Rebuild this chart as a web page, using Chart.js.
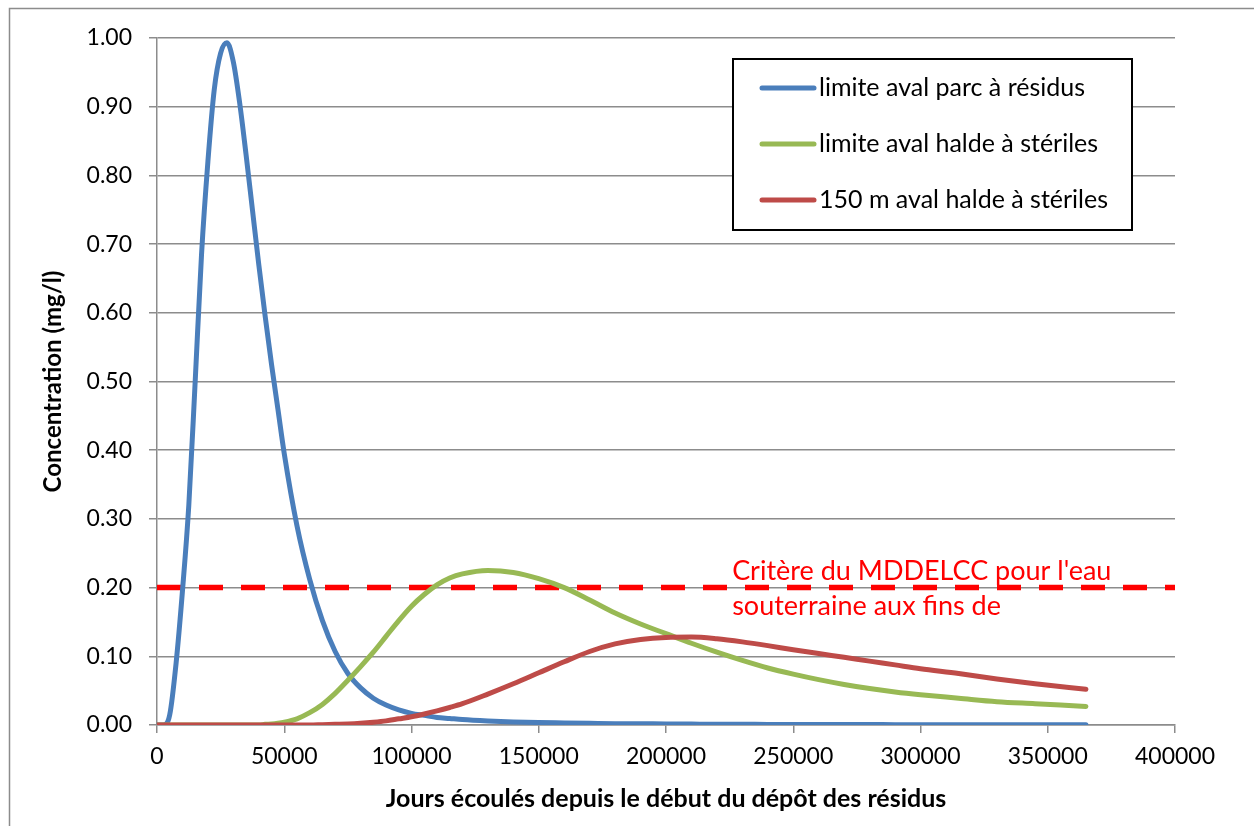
<!DOCTYPE html>
<html lang="fr">
<head>
  <meta charset="UTF-8">
  <title>Concentration en aval</title>
  <script src="https://cdn.jsdelivr.net/npm/chart.js"></script>
  <style>
    body { margin: 0; background: #fff; }
    #wrap { width: 1254px; height: 826px; }
  </style>
</head>
<body>
  <div id="wrap"><canvas id="chart" width="1254" height="826"></canvas></div>

  <script>
    // jours écoulés (axe x)
    const days = [0, 2500, 5000, 7500, 10000, 12500, 15000, 17500, 20000, 22500,
      25000, 27500, 30000, 32500, 35000, 37500, 40000, 42500, 45000, 47500,
      50000, 55000, 60000, 65000, 70000, 75000, 80000, 85000, 90000, 95000,
      100000, 105000, 110000, 115000, 120000, 130000, 140000, 150000, 160000, 170000,
      180000, 190000, 200000, 210000, 220000, 230000, 240000, 250000, 260000, 270000,
      280000, 290000, 300000, 315000, 330000, 345000, 365000];

    const parcResidus = [0, 0, 0.015, 0.09, 0.195, 0.32, 0.5, 0.685, 0.82, 0.925,
      0.978, 0.993, 0.965, 0.905, 0.83, 0.75, 0.67, 0.595, 0.525, 0.46,
      0.395, 0.29, 0.212, 0.152, 0.107, 0.075, 0.054, 0.039, 0.029, 0.022,
      0.017, 0.014, 0.011, 0.0095, 0.008, 0.006, 0.0045, 0.0035, 0.003, 0.0025,
      0.002, 0.0018, 0.0015, 0.0013, 0.0011, 0.001, 0.0009, 0.0008, 0.0007, 0.0006,
      0.0006, 0.0005, 0.0005, 0.0004, 0.0004, 0.0003, 0.0003];

    const haldeSteriles = [0, 0, 0, 0, 0, 0, 0, 0, 0, 0,
      0, 0, 0, 0, 0, 0, 0, 0.001, 0.0015, 0.0025,
      0.004, 0.009, 0.018, 0.03, 0.046, 0.065, 0.085, 0.106, 0.129, 0.152,
      0.173, 0.19, 0.204, 0.214, 0.22, 0.225, 0.222, 0.213, 0.2, 0.182,
      0.163, 0.147, 0.133, 0.119, 0.106, 0.094, 0.083, 0.074, 0.066, 0.059,
      0.053, 0.048, 0.044, 0.039, 0.034, 0.031, 0.027];

    const haldeSteriles150 = [0, 0, 0, 0, 0, 0, 0, 0, 0, 0,
      0, 0, 0, 0, 0, 0, 0, 0, 0, 0,
      0, 0, 0, 0.0005, 0.001, 0.0015, 0.0025, 0.004, 0.006, 0.009,
      0.012, 0.016, 0.0205, 0.0255, 0.031, 0.045, 0.06, 0.076, 0.092, 0.107,
      0.118, 0.1245, 0.1275, 0.128, 0.1255, 0.121, 0.1155, 0.1095, 0.104, 0.0985,
      0.093, 0.0875, 0.082, 0.075, 0.067, 0.06, 0.052];

    const critereDays = [0, 400000];
    const critereValues = [0.2, 0.2];
    const critereText = ["Critère du MDDELCC pour l'eau", "souterraine aux fins de"];

    const seriesLabels = ['limite aval parc à résidus', 'limite aval halde à stériles', '150 m aval halde à stériles'];
    const seriesColors = ['#4a7ebb', '#98b954', '#be4b48'];

    const font = 'Lato';
    const gridColor = '#8c8c8c';

    function pts(xs, ys) {
      return xs.map((x, i) => ({ x: x, y: ys[i] }));
    }

    // cadre extérieur, légende et note du critère
    const extras = {
      id: 'extras',
      beforeDraw(chart) {
        const ctx = chart.ctx;
        ctx.save();
        ctx.fillStyle = '#fff';
        ctx.fillRect(0, 0, chart.width, chart.height);
        ctx.strokeStyle = gridColor;
        ctx.lineWidth = 1.5;
        ctx.strokeRect(9.5, 8.5, chart.width + 20, chart.height + 20);
        ctx.restore();
      },
      afterDatasetsDraw(chart) {
        const ctx = chart.ctx;
        const area = chart.chartArea;
        const sx = chart.scales.x, sy = chart.scales.y;
        ctx.save();

        // note rouge
        ctx.fillStyle = '#ff0000';
        ctx.font = '27px ' + font;
        ctx.textBaseline = 'middle';
        const tx = sx.getPixelForValue(226000);
        const ty = sy.getPixelForValue(critereValues[0]);
        ctx.fillText(critereText[0], tx, ty - 16);
        ctx.fillText(critereText[1], tx, ty + 19);

        // légende
        const lx = area.right - 442, ly = area.top + 21, lw = 399, lh = 171;
        ctx.fillStyle = '#fff';
        ctx.fillRect(lx, ly, lw, lh);
        ctx.strokeStyle = '#000';
        ctx.lineWidth = 2;
        ctx.strokeRect(lx, ly, lw, lh);
        ctx.lineCap = 'round';
        ctx.font = '25px ' + font;
        seriesLabels.forEach((lab, i) => {
          const y = ly + 29 + i * 56;
          ctx.strokeStyle = seriesColors[i];
          ctx.lineWidth = 5;
          ctx.beginPath();
          ctx.moveTo(lx + 29, y);
          ctx.lineTo(lx + 81, y);
          ctx.stroke();
          ctx.fillStyle = '#000';
          ctx.fillText(lab, lx + 86, y);
        });
        ctx.restore();
      }
    };

    const lineDs = (i, data) => ({
      label: seriesLabels[i],
      data: pts(days, data),
      borderColor: seriesColors[i],
      borderWidth: 5,
      pointRadius: 0,
      fill: false,
      cubicInterpolationMode: 'monotone',
      borderCapStyle: 'round',
      borderJoinStyle: 'round',
      order: 3 - i
    });

    new Chart(document.getElementById('chart'), {
      type: 'line',
      data: {
        datasets: [
          lineDs(0, parcResidus),
          lineDs(1, haldeSteriles),
          lineDs(2, haldeSteriles150),
          {
            label: 'Critère',
            data: pts(critereDays, critereValues),
            borderColor: '#ff0000',
            borderWidth: 5.5,
            borderDash: [24, 18],
            pointRadius: 0,
            fill: false,
            order: 10
          }
        ]
      },
      options: {
        responsive: false,
        animation: false,
        layout: { padding: { left: 0, top: 38, right: 79, bottom: 0 } },
        plugins: { legend: { display: false }, tooltip: { enabled: false } },
        scales: {
          x: {
            type: 'linear',
            min: 0,
            max: 400000,
            afterFit(s) { s.height = 101; },
            ticks: {
              stepSize: 50000,
              color: '#000',
              padding: 10,
              maxRotation: 0,
              font: { family: font, size: 23 },
              callback: v => String(v)
            },
            grid: { drawOnChartArea: false, color: gridColor, tickLength: 8, lineWidth: 1.5 },
            border: { color: gridColor, width: 1.5 },
            title: {
              display: true,
              text: 'Jours écoulés depuis le début du dépôt des résidus',
              color: '#000',
              font: { family: font, size: 25, weight: 'bold' },
              padding: { top: 0, bottom: 12 }
            }
          },
          y: {
            min: 0,
            max: 1,
            afterFit(s) { s.width = 157; },
            ticks: {
              stepSize: 0.1,
              color: '#000',
              padding: 17,
              font: { family: font, size: 23 },
              callback: v => v.toFixed(2)
            },
            grid: { color: gridColor, tickLength: 8, lineWidth: 1.5 },
            border: { color: gridColor, width: 1.5 },
            title: {
              display: true,
              text: 'Concentration (mg/l)',
              color: '#000',
              font: { family: font, size: 24, weight: 'bold' },
              padding: { top: 39, bottom: 0 }
            }
          }
        }
      },
      plugins: [extras]
    });
  </script>
</body>
</html>
